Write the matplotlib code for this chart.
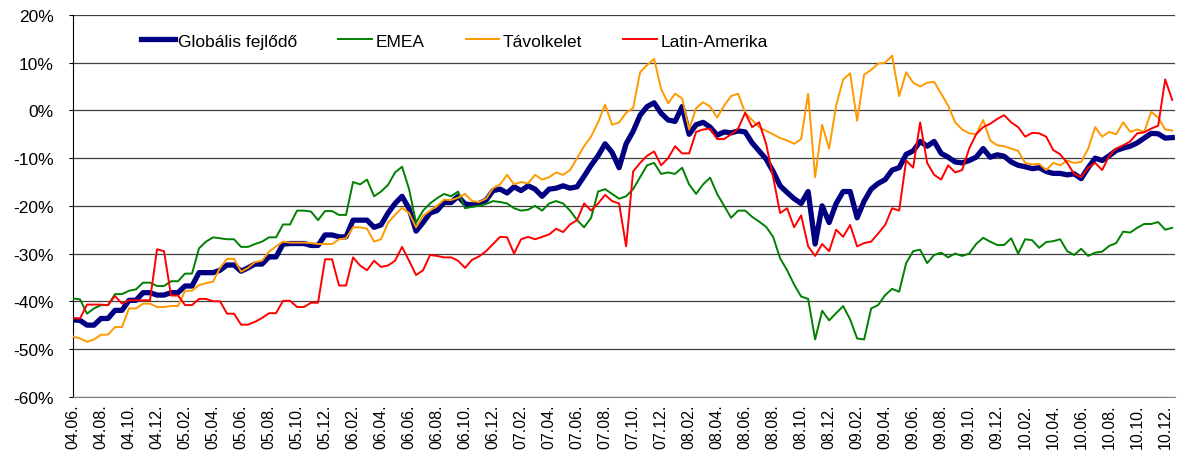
import numpy as np
import pandas as pd
import matplotlib
matplotlib.use('Agg')
import matplotlib.pyplot as plt

plt.rcParams['font.family'] = ['Liberation Sans', 'DejaVu Sans']

# semi-monthly observations, 2004.06 - 2010.12
dates = pd.date_range('2004-06-01', periods=158, freq='SMS')

globalis = [
    -43.9, -44.0, -45.0, -45.0, -43.6, -43.6, -41.9, -41.9, -39.8, -39.8,
    -38.2, -38.2, -38.7, -38.7, -38.2, -38.2, -36.8, -36.8, -34.0, -34.0,
    -34.0, -33.5, -32.4, -32.4, -33.7, -33.0, -32.2, -32.2, -30.7, -30.7,
    -28.0, -27.9, -27.9, -27.9, -28.3, -28.3, -26.1, -26.1, -26.5, -26.5,
    -23.0, -23.0, -23.0, -24.5, -24.0, -21.5, -19.5, -18.0, -20.6, -25.3,
    -23.5, -21.5, -21.0, -19.3, -19.3, -18.0, -19.6, -19.8, -19.5, -18.8,
    -16.8, -16.5, -17.3, -16.0, -16.8, -15.8, -16.5, -18.0, -16.5, -16.3,
    -15.8, -16.3, -16.0, -13.8, -11.5, -9.5, -7.0, -8.8, -12.0, -7.0,
    -4.4, -1.0, 0.8, 1.6, -0.6, -2.0, -2.3, 0.8, -5.0, -3.0,
    -2.5, -3.5, -5.2, -4.5, -4.7, -4.3, -4.5, -6.8, -8.5, -10.2,
    -12.8, -15.8, -17.2, -18.5, -19.5, -17.0, -28.0, -20.0, -23.5, -19.5,
    -17.0, -17.0, -22.5, -19.0, -16.5, -15.3, -14.5, -12.5, -12.0, -9.2,
    -8.5, -6.5, -7.5, -6.5, -9.0, -9.8, -10.8, -11.0, -10.5, -9.8,
    -8.0, -9.8, -9.3, -9.6, -10.8, -11.5, -11.8, -12.2, -12.0, -12.8,
    -13.2, -13.2, -13.5, -13.3, -14.3, -12.0, -10.0, -10.5, -9.5, -8.4,
    -7.9, -7.5, -6.8, -5.8, -4.8, -4.9, -5.8, -5.7,
]

emea = [
    -39.4, -39.6, -42.6, -41.5, -40.8, -40.8, -38.5, -38.5, -37.8, -37.5,
    -36.1, -36.1, -36.8, -36.8, -35.8, -35.8, -34.2, -34.2, -28.9, -27.5,
    -26.6, -26.8, -27.0, -27.0, -28.6, -28.6, -28.0, -27.5, -26.6, -26.6,
    -23.9, -23.9, -21.0, -21.0, -21.2, -23.0, -21.1, -21.1, -21.9, -21.9,
    -15.0, -15.5, -14.5, -18.0, -17.0, -15.6, -13.0, -11.8, -16.5, -23.5,
    -21.0, -19.5, -18.4, -17.5, -18.0, -17.0, -20.5, -20.2, -20.0, -19.6,
    -19.0, -19.2, -19.5, -20.5, -21.0, -20.8, -20.0, -21.0, -19.5, -19.0,
    -19.5, -21.0, -23.0, -24.5, -22.5, -17.0, -16.5, -17.5, -18.5, -18.0,
    -16.5, -14.0, -11.5, -11.0, -13.3, -13.0, -13.3, -12.0, -15.5, -17.5,
    -15.5, -14.1, -17.5, -20.0, -22.5, -21.0, -21.0, -22.3, -23.3, -24.4,
    -26.5, -31.0, -33.5, -36.5, -39.0, -39.5, -48.0, -42.0, -44.0, -42.5,
    -41.0, -43.8, -47.8, -48.0, -41.5, -40.8, -38.7, -37.4, -38.0, -32.0,
    -29.5, -29.2, -32.0, -30.3, -29.8, -30.8, -30.0, -30.5, -30.0, -28.0,
    -26.7, -27.5, -28.2, -28.2, -26.8, -30.0, -27.0, -27.2, -28.8, -27.6,
    -27.4, -27.0, -29.5, -30.3, -29.0, -30.5, -29.8, -29.6, -28.4, -27.8,
    -25.4, -25.6, -24.6, -23.8, -23.8, -23.4, -25.0, -24.6,
]

tavolkelet = [
    -47.4, -47.8, -48.5, -48.0, -47.0, -47.0, -45.4, -45.4, -41.5, -41.5,
    -40.5, -40.5, -41.2, -41.2, -41.0, -41.0, -37.8, -37.8, -36.6, -36.2,
    -35.9, -33.0, -31.1, -31.1, -33.8, -33.0, -31.8, -31.5, -29.6, -28.5,
    -27.5, -27.7, -27.7, -27.7, -27.8, -28.0, -28.0, -28.0, -27.0, -26.8,
    -24.5, -24.5, -24.8, -27.5, -27.0, -23.5, -21.9, -20.4, -21.5, -24.5,
    -22.1, -21.0, -20.0, -18.7, -18.8, -18.3, -17.5, -19.0, -19.2, -18.5,
    -16.3, -15.5, -13.5, -15.5, -15.0, -15.3, -13.5, -14.5, -14.0, -13.0,
    -13.5, -12.5, -10.0, -7.5, -5.5, -2.5, 1.2, -3.0, -2.5, -0.5,
    0.5, 8.0, 9.5, 10.8, 4.5, 1.5, 3.5, 2.5, -4.0, 0.5,
    1.7, 0.8, -1.5, 1.0, 3.0, 3.5, -0.5, -2.0, -3.5, -4.3,
    -5.0, -5.8, -6.3, -7.0, -6.0, 3.5, -14.0, -3.0, -8.0, 1.0,
    6.5, 7.8, -2.2, 7.5, 8.5, 9.8, 10.0, 11.5, 3.0, 8.0,
    5.8, 5.0, 5.8, 6.0, 3.5, 1.0, -2.5, -4.0, -4.8, -5.0,
    -2.0, -6.3, -7.3, -7.5, -8.0, -8.5, -11.0, -11.3, -11.2, -12.5,
    -11.0, -11.5, -10.5, -11.0, -10.8, -8.0, -3.5, -5.5, -4.5, -5.0,
    -2.5, -4.5, -4.0, -4.5, -0.3, -1.5, -4.0, -4.2,
]

latin = [
    -43.6, -43.6, -40.7, -40.7, -40.7, -40.8, -38.9, -40.5, -39.8, -39.8,
    -39.8, -39.8, -29.1, -29.5, -38.8, -38.8, -40.8, -40.8, -39.5, -39.5,
    -40.0, -40.0, -42.6, -42.6, -44.9, -44.9, -44.3, -43.5, -42.5, -42.5,
    -39.9, -39.9, -41.2, -41.2, -40.3, -40.3, -31.2, -31.2, -36.7, -36.7,
    -30.8, -32.5, -33.5, -31.5, -32.8, -32.5, -31.5, -28.6, -31.5, -34.5,
    -33.5, -30.3, -30.5, -30.8, -30.8, -31.5, -33.0, -31.3, -30.6, -29.5,
    -28.0, -26.5, -26.6, -30.0, -27.0, -26.5, -27.0, -26.5, -26.0, -24.8,
    -25.5, -23.9, -23.0, -19.5, -21.0, -19.5, -17.7, -19.0, -19.5, -28.5,
    -12.8, -11.0, -9.5, -8.6, -11.5, -10.0, -7.5, -9.0, -9.0, -4.5,
    -4.0, -3.8, -6.0, -6.0, -5.0, -3.8, -0.5, -3.5, -2.5, -7.0,
    -14.0, -21.5, -20.5, -24.5, -22.0, -28.5, -30.5, -28.0, -29.5, -25.0,
    -26.5, -24.0, -28.5, -27.8, -27.5, -25.8, -24.0, -20.5, -21.0, -10.5,
    -12.0, -2.5, -11.0, -13.5, -14.5, -11.5, -13.0, -12.5, -8.0, -5.0,
    -3.5, -2.8, -1.8, -1.0, -2.5, -3.5, -5.5, -4.7, -4.8, -5.5,
    -8.3, -9.2, -11.0, -13.3, -14.0, -12.0, -11.0, -12.5, -9.5, -8.0,
    -7.3, -6.5, -4.8, -4.6, -3.8, -3.2, 6.5, 2.2,
]

series_names = ['Globális fejlődő', 'EMEA', 'Távolkelet', 'Latin-Amerika']
y_ticks = [-60, -50, -40, -30, -20, -10, 0, 10, 20]
y_labels = ['-60%', '-50%', '-40%', '-30%', '-20%', '-10%', '0%', '10%', '20%']

fig = plt.figure(figsize=(11.77, 4.52), dpi=100)
ax = fig.add_axes([73 / 1177, 1 - 397.7 / 452, (1175 - 73) / 1177, (397.7 - 16) / 452])

x = np.arange(len(dates))
ax.plot(x, globalis, color='#000080', lw=3.8, label=series_names[0], zorder=3)
ax.plot(x, emea, color='#008000', lw=1.4, label=series_names[1], zorder=4)
ax.plot(x, tavolkelet, color='#FF9900', lw=1.4, label=series_names[2], zorder=5)
ax.plot(x, latin, color='#FF0000', lw=1.4, label=series_names[3], zorder=6)

ax.set_xlim(0, 157.4)
ax.set_ylim(-60, 20)

ax.set_yticks(y_ticks)
ax.set_yticklabels(y_labels, fontsize=12.5)
tick_pos = x[::4]
ax.set_xticks(tick_pos)
ax.set_xticklabels(dates[::4].strftime('%y.%m.'), rotation=90, fontsize=11.5)

ax.yaxis.grid(True, color='#404040', lw=0.9)
ax.set_axisbelow(True)
for side in ['top', 'right']:
    ax.spines[side].set_visible(False)
ax.spines['left'].set_color('black')
ax.spines['bottom'].set_color('#808080')
ax.tick_params(axis='x', length=0, pad=5)
ax.tick_params(axis='y', length=3, pad=11)

ax.legend(loc='center left', bbox_to_anchor=((141 - 73) / 1102, 0.932), ncol=4,
          frameon=False, fontsize=12.5, handlelength=1.95, handletextpad=0.2,
          columnspacing=2.35, borderpad=0, borderaxespad=0)

fig.savefig('out.png', dpi=100)
plt.close(fig)
